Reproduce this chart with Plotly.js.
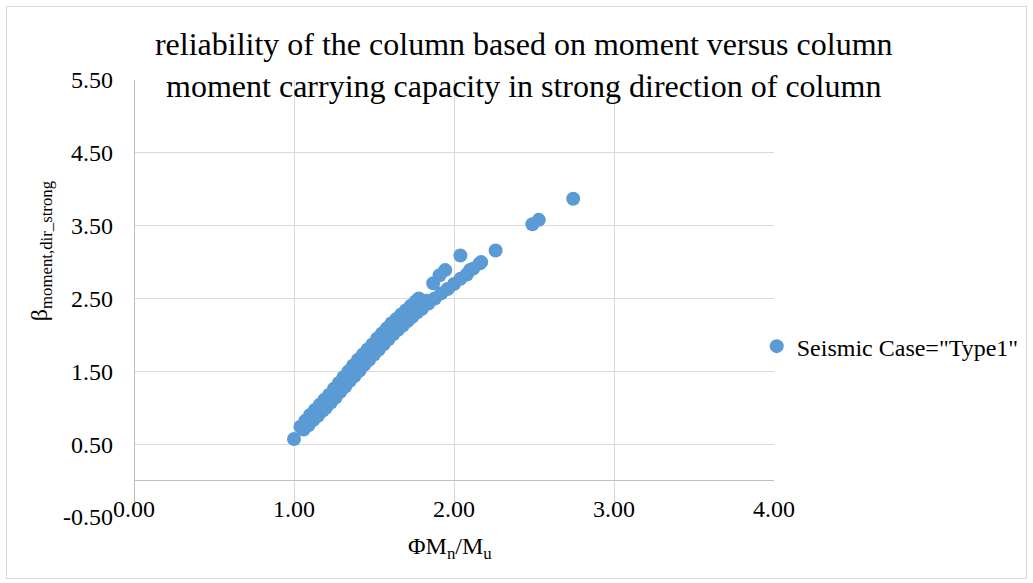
<!DOCTYPE html>
<html>
<head>
<meta charset="utf-8">
<script src="https://cdn.plot.ly/plotly-3.0.1.min.js"></script>
<style>
  html, body { margin: 0; padding: 0; background: #fff; }
  #chart { width: 1033px; height: 583px; position: relative; }
  #frame { position: absolute; left: 6px; top: 6px; width: 1019px; height: 571px;
           border: 1px solid #d9d9d9; pointer-events: none; }
</style>
</head>
<body>
<div id="chart"></div>
<div id="frame"></div>
<script>
// Capacity ratio (ΦMn/Mu) and reliability index β for each column, strong direction
const bandLowX = [1.06,1.09,1.12,1.15,1.18,1.20,1.23,1.26,1.29,1.32,1.35,1.38,1.41,1.44,1.47,1.50,1.53,1.56,1.59,1.62,1.65,1.68,1.71,1.74,1.77,1.80,1.84,1.88,1.92,1.96,2.00,2.04,2.08,2.12,2.16];
const bandLowY = [0.70,0.76,0.83,0.89,0.96,1.00,1.07,1.14,1.22,1.29,1.37,1.44,1.51,1.59,1.66,1.73,1.80,1.87,1.94,2.01,2.07,2.13,2.19,2.25,2.31,2.36,2.43,2.50,2.57,2.63,2.70,2.77,2.83,2.91,2.98];

const bandHighX = [1.04,1.07,1.10,1.13,1.16,1.19,1.22,1.25,1.28,1.31,1.34,1.37,1.40,1.43,1.46,1.49,1.52,1.55,1.58,1.61,1.64,1.67,1.70,1.73];
const bandHighY = [0.74,0.82,0.90,0.97,1.04,1.11,1.18,1.26,1.34,1.42,1.50,1.58,1.66,1.73,1.80,1.87,1.95,2.02,2.09,2.16,2.22,2.28,2.34,2.40];

const sparseX = [1.00,1.76,1.78,1.80,1.83,1.87,1.91,1.945,2.04,2.10,2.17,2.26,2.49,2.53,2.745];
const sparseY = [0.57,2.46,2.50,2.42,2.47,2.71,2.82,2.89,3.09,2.89,3.00,3.16,3.52,3.58,3.87];

const yTickVals = [-0.5, 0.5, 1.5, 2.5, 3.5, 4.5, 5.5];
const yTickText = ['-0.50', '0.50', '1.50', '2.50', '3.50', '4.50', '5.50'];
const xTickVals = [0, 1, 2, 3, 4];
const xTickText = ['0.00', '1.00', '2.00', '3.00', '4.00'];

const seriesName = 'Seismic Case="Type1"';
const chartTitle = 'reliability of the column based on moment versus column<br>moment carrying capacity in strong direction of column';
const xTitle = 'ΦM<sub>n</sub>/M<sub>u</sub>';
const yTitle = 'β<sub>moment,dir_strong</sub>';

const serif = "'Liberation Serif', 'Times New Roman', Times, serif";
const grid = '#d9d9d9';

const trace = {
  type: 'scatter',
  mode: 'markers',
  name: seriesName,
  x: bandLowX.concat(bandHighX, sparseX),
  y: bandLowY.concat(bandHighY, sparseY),
  marker: { color: '#5b9bd5', size: 14 },
  showlegend: true,
  hoverinfo: 'x+y'
};

const layout = {
  width: 1033,
  height: 583,
  margin: { l: 134, r: 259, t: 80, b: 66, autoexpand: false },
  paper_bgcolor: '#ffffff',
  plot_bgcolor: '#ffffff',
  font: { family: serif, size: 24, color: '#000000' },
  title: {
    text: chartTitle,
    font: { family: serif, size: 32, color: '#000000' },
    xref: 'container', yref: 'container',
    x: 0.507, xanchor: 'center',
    y: 0.905, yanchor: 'top'
  },
  xaxis: {
    range: [0, 4],
    tickvals: xTickVals, ticktext: xTickText,
    showgrid: true, gridcolor: grid, gridwidth: 1,
    zeroline: true, zerolinecolor: '#bfbfbf', zerolinewidth: 1,
    showline: false,
    ticks: '',
    ticklabelstandoff: -25,
    tickfont: { family: serif, size: 24, color: '#000000' },
    fixedrange: true
  },
  yaxis: {
    range: [-0.5, 5.5],
    tickvals: yTickVals, ticktext: yTickText,
    showgrid: true, gridcolor: grid, gridwidth: 1,
    zeroline: true, zerolinecolor: '#bfbfbf', zerolinewidth: 1,
    showline: false,
    ticks: '',
    ticklabelstandoff: 20,
    tickfont: { family: serif, size: 24, color: '#000000' },
    fixedrange: true
  },
  legend: {
    x: 0.973, xref: 'paper', xanchor: 'left',
    y: 0.39, yanchor: 'middle',
    font: { family: serif, size: 24, color: '#000000' },
    bgcolor: 'rgba(0,0,0,0)',
    borderwidth: 0
  },
  annotations: [
    {
      text: yTitle, textangle: -90,
      xref: 'paper', yref: 'paper',
      x: -0.144, y: 0.61,
      xanchor: 'center', yanchor: 'middle',
      showarrow: false,
      font: { family: serif, size: 24, color: '#000000' }
    },
    {
      text: xTitle,
      xref: 'paper', yref: 'paper',
      x: 0.494, y: -0.072,
      xanchor: 'center', yanchor: 'middle',
      showarrow: false,
      font: { family: serif, size: 24, color: '#000000' }
    }
  ]
};

Plotly.newPlot('chart', [trace], layout, { displayModeBar: false, staticPlot: true });
</script>
</body>
</html>
